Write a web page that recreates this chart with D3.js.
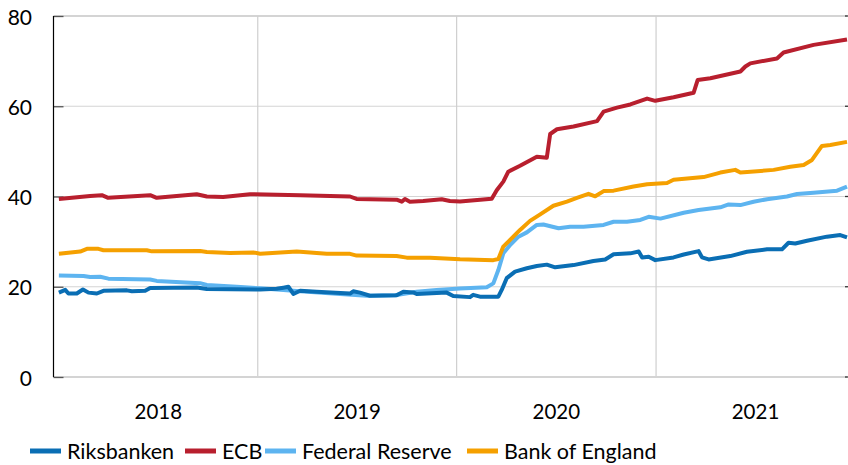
<!DOCTYPE html>
<html>
<head>
<meta charset="utf-8">
<script src="https://cdn.jsdelivr.net/npm/d3@7"></script>
<style>
  html, body { margin: 0; padding: 0; background: #fff; }
  svg { display: block; font-family: Lato, "Open Sans", sans-serif; }
</style>
</head>
<body>
<svg id="chart" width="848" height="465"></svg>
<script>
// ---- Data (time as decimal years) ----
const riksTime = [2018.000,2018.032,2018.048,2018.090,2018.121,2018.149,2018.191,2018.224,2018.342,2018.367,2018.434,2018.459,2018.693,2018.744,2019.012,2019.095,2019.129,2019.154,2019.179,2019.213,2019.296,2019.464,2019.480,2019.514,2019.564,2019.698,2019.732,2019.782,2019.799,2019.950,2019.983,2020.067,2020.083,2020.117,2020.209,2020.226,2020.251,2020.293,2020.352,2020.402,2020.452,2020.494,2020.586,2020.686,2020.745,2020.787,2020.871,2020.913,2020.930,2020.963,2020.996,2021.088,2021.139,2021.214,2021.231,2021.264,2021.373,2021.457,2021.558,2021.633,2021.666,2021.700,2021.759,2021.859,2021.926,2021.960];
const riksValues = [18.7,19.3,18.5,18.5,19.4,18.7,18.5,19.1,19.2,19.0,19.1,19.7,19.85,19.5,19.4,19.55,19.8,20.0,18.4,19.1,18.9,18.5,19.0,18.7,18.0,18.1,18.9,18.75,18.4,18.7,17.95,17.7,18.2,17.8,17.8,19.3,21.9,23.35,24.1,24.6,24.9,24.3,24.8,25.7,26.05,27.2,27.4,27.8,26.5,26.65,25.9,26.5,27.15,27.9,26.5,26.05,26.8,27.75,28.3,28.3,29.75,29.6,30.2,31.1,31.45,30.95];

const ecbTime = [2018.000,2018.157,2018.216,2018.248,2018.459,2018.492,2018.693,2018.744,2018.826,2018.961,2019.213,2019.464,2019.497,2019.698,2019.724,2019.740,2019.765,2019.832,2019.925,2019.966,2020.017,2020.176,2020.201,2020.234,2020.259,2020.318,2020.402,2020.452,2020.469,2020.503,2020.586,2020.704,2020.737,2020.804,2020.871,2020.955,2020.996,2021.088,2021.189,2021.209,2021.273,2021.424,2021.449,2021.474,2021.608,2021.641,2021.792,2021.960];
const ecbValues = [39.45,40.1,40.3,39.7,40.3,39.7,40.5,40.0,39.9,40.5,40.3,40.0,39.45,39.3,38.85,39.45,38.85,39.0,39.4,39.0,38.9,39.5,41.4,43.3,45.5,46.8,48.8,48.6,53.85,54.9,55.5,56.7,58.8,59.7,60.4,61.7,61.2,62.0,63.0,65.8,66.2,67.7,68.8,69.5,70.6,71.9,73.6,74.8];

const fedTime = [2018.000,2018.124,2018.157,2018.208,2018.249,2018.459,2018.492,2018.710,2018.744,2018.894,2019.012,2019.213,2019.414,2019.548,2019.690,2019.799,2019.899,2020.017,2020.151,2020.184,2020.209,2020.234,2020.268,2020.310,2020.352,2020.402,2020.435,2020.511,2020.569,2020.636,2020.737,2020.787,2020.854,2020.921,2020.963,2021.022,2021.139,2021.214,2021.323,2021.365,2021.424,2021.490,2021.558,2021.658,2021.709,2021.792,2021.910,2021.960];
const fedValues = [22.5,22.4,22.15,22.2,21.8,21.6,21.3,20.8,20.4,20.0,19.65,19.0,18.4,18.0,18.1,18.9,19.3,19.6,19.9,20.75,23.7,27.4,29.25,31.1,32.05,33.7,33.8,32.95,33.3,33.3,33.7,34.4,34.4,34.8,35.5,35.1,36.4,37.0,37.6,38.25,38.1,38.85,39.4,40.0,40.55,40.85,41.3,42.2];

const boeTime = [2018.000,2018.107,2018.141,2018.199,2018.224,2018.442,2018.467,2018.710,2018.744,2018.861,2018.978,2019.012,2019.196,2019.347,2019.464,2019.497,2019.698,2019.749,2019.866,2020.017,2020.184,2020.209,2020.234,2020.268,2020.318,2020.368,2020.419,2020.485,2020.553,2020.603,2020.661,2020.695,2020.737,2020.787,2020.887,2020.955,2021.055,2021.088,2021.239,2021.323,2021.398,2021.424,2021.591,2021.675,2021.742,2021.784,2021.834,2021.876,2021.960];
const boeValues = [27.3,27.8,28.4,28.4,28.1,28.1,27.85,27.9,27.7,27.5,27.6,27.3,27.8,27.3,27.3,26.9,26.8,26.45,26.45,26.1,25.9,26.15,28.9,30.4,32.6,34.6,36.05,37.95,38.85,39.7,40.6,40.05,41.2,41.3,42.2,42.7,43.0,43.7,44.3,45.3,45.9,45.3,45.9,46.6,47.0,48.1,51.2,51.4,52.1];

const seriesNames = ["Riksbanken", "ECB", "Federal Reserve", "Bank of England"];
const seriesColors = ["#0a6eb4", "#b81f2e", "#5db4f0", "#f5a000"];
const yTicks = [0, 20, 40, 60, 80];
const yearLabels = ["2018", "2019", "2020", "2021"];
const xDomainYears = [2017.973, 2021.96];

// ---- helpers ----
function toDate(t) {
  const yr = Math.floor(t);
  const s = Date.UTC(yr, 0, 1), e = Date.UTC(yr + 1, 0, 1);
  return new Date(s + (t - yr) * (e - s));
}
function zip(ts, vs) { return ts.map((t, i) => ({ date: toDate(t), value: vs[i] })); }

const series = [
  { name: seriesNames[0], color: seriesColors[0], data: zip(riksTime, riksValues) },
  { name: seriesNames[1], color: seriesColors[1], data: zip(ecbTime, ecbValues) },
  { name: seriesNames[2], color: seriesColors[2], data: zip(fedTime, fedValues) },
  { name: seriesNames[3], color: seriesColors[3], data: zip(boeTime, boeValues) }
];

// ---- layout ----
const svg = d3.select("#chart");
const plotL = 53.5, plotR = 847, plotT = 16, plotB = 377;

const x = d3.scaleUtc().domain(xDomainYears.map(toDate)).range([plotL, plotR]);
const y = d3.scaleLinear().domain([0, 80]).range([plotB, plotT]);

const yearStarts = yearLabels.map(l => new Date(Date.UTC(+l, 0, 1)));
const yearBoundaries = yearStarts.slice(1);

// horizontal grid
svg.append("g").selectAll("line").data(yTicks.filter(v => v > 0)).join("line")
  .attr("x1", plotL).attr("x2", plotR)
  .attr("y1", d => y(d)).attr("y2", d => y(d))
  .attr("stroke", "#d4d4d4").attr("stroke-width", d => d === 80 ? 1.8 : 1.2);

// vertical grid
svg.append("g").selectAll("line").data(yearBoundaries).join("line")
  .attr("x1", d => x(d)).attr("x2", d => x(d))
  .attr("y1", plotT).attr("y2", plotB)
  .attr("stroke", "#cfcfcf").attr("stroke-width", 1.2);

// bottom axis line (light)
svg.append("line")
  .attr("x1", plotL).attr("x2", plotR).attr("y1", y(0)).attr("y2", y(0))
  .attr("stroke", "#d4d4d4").attr("stroke-width", 2);

// left axis
const yAxis = d3.axisRight(y).tickValues(yTicks).tickSize(10).tickFormat("");
const gy = svg.append("g").attr("transform", `translate(${plotL},0)`).call(yAxis);
gy.select(".domain").remove();
gy.selectAll(".tick line").attr("stroke", "#555").attr("stroke-width", 1.3);
svg.append("line").attr("x1", plotL).attr("x2", plotL).attr("y1", plotT).attr("y2", plotB)
  .attr("stroke", "#000").attr("stroke-width", 1.2);

// right tiny ticks
svg.append("g").selectAll("line").data(yTicks).join("line")
  .attr("x1", plotR - 2).attr("x2", plotR + 1)
  .attr("y1", d => y(d)).attr("y2", d => y(d))
  .attr("stroke", "#333").attr("stroke-width", 1.3);

// y labels
svg.append("g").selectAll("text").data(yTicks).join("text")
  .attr("x", 32).attr("y", d => y(d))
  .attr("text-anchor", "end").attr("dominant-baseline", "central")
  .attr("font-size", 21).attr("fill", "#000")
  .text(d => d);

// year labels centred in each year
svg.append("g").selectAll("text").data(yearLabels).join("text")
  .attr("x", (d, i) => {
    const s = yearStarts[i], e = new Date(Date.UTC(+d + 1, 0, 1));
    return (x(s) + x(e)) / 2;
  })
  .attr("y", 419).attr("text-anchor", "middle")
  .attr("font-size", 20.5).attr("fill", "#000")
  .text(d => d);

// lines
const line = d3.line().x(d => x(d.date)).y(d => y(d.value)).curve(d3.curveLinear);
const drawOrder = [2, 3, 1, 0];
svg.append("clipPath").attr("id", "clip").append("rect")
  .attr("x", plotL).attr("y", 0).attr("width", plotR - plotL + 2).attr("height", plotB + 5);
svg.append("g").attr("clip-path", "url(#clip)").selectAll("path")
  .data(drawOrder.map(i => series[i])).join("path")
  .attr("d", d => line(d.data))
  .attr("fill", "none").attr("stroke", d => d.color)
  .attr("stroke-width", 4).attr("stroke-linejoin", "round").attr("stroke-linecap", "butt");

// legend (swatch start positions follow the reference layout)
const legendX = [30, 185, 265, 467];
const legend = svg.append("g").attr("transform", "translate(0,451)");
series.forEach((s, i) => {
  const g = legend.append("g").attr("transform", `translate(${legendX[i]},0)`);
  g.append("line").attr("x1", 0).attr("x2", 31).attr("y1", 0).attr("y2", 0)
    .attr("stroke", s.color).attr("stroke-width", 5);
  g.append("text").attr("x", 37).attr("y", 0)
    .attr("dominant-baseline", "central")
    .attr("font-size", 21.5).attr("fill", "#000").text(s.name);
});
</script>
</body>
</html>
